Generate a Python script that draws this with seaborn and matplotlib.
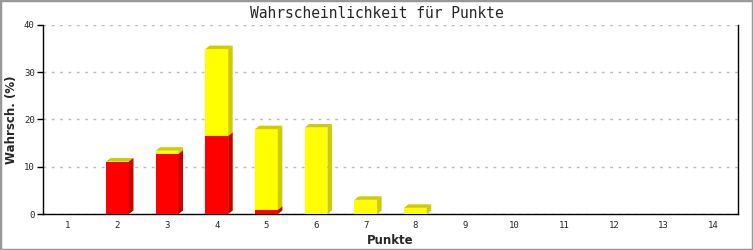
import matplotlib
matplotlib.use("Agg")
import matplotlib.pyplot as plt
import seaborn as sns
import pandas as pd
import numpy as np
from matplotlib.patches import Polygon, Rectangle

# ---- data ----
punkte = ["1", "2", "3", "4", "5", "6", "7", "8", "9", "10", "11", "12", "13", "14"]
rot = [0, 11.1, 12.7, 16.5, 0.85, 0, 0, 0, 0, 0, 0, 0, 0, 0]
gelb = [0, 0, 0.7, 18.4, 17.1, 18.3, 3.0, 1.3, 0, 0, 0, 0, 0, 0]
title = "Wahrscheinlichkeit für Punkte"
xlabel = "Punkte"
ylabel = "Wahrsch. (%)"
yticks = [0, 10, 20, 30, 40]

sns.set_theme(style="white")
plt.rcParams["font.family"] = ["DejaVu Sans Mono", "DejaVu Sans"]

W, H = 753, 250
fig = plt.figure(figsize=(W / 100, H / 100), dpi=100)
ax = fig.add_axes([43 / W, 1 - 214 / H, (738 - 43) / W, (214 - 25) / H])

df = pd.DataFrame({"punkte": punkte, "rot": rot, "gelb": gelb})
df["total"] = df["rot"] + df["gelb"]

bw = 0.46
sns.barplot(data=df, x="punkte", y="total", color="#FFFF00", saturation=1,
            width=bw, ax=ax, linewidth=0, zorder=3)
n_total = len(ax.patches)
sns.barplot(data=df, x="punkte", y="rot", color="#FF0000", saturation=1,
            width=bw, ax=ax, linewidth=0, zorder=4)

ax.set_xlim(-0.5, len(punkte) - 0.5)
ax.set_ylim(0, 40)

# 3D depth in pixels converted to data units
fig.canvas.draw()
x_px = ax.transData.transform([(0, 0), (1, 1)])
px_x = x_px[1, 0] - x_px[0, 0]
px_y = (x_px[1, 1] - x_px[0, 1])
dx = 4.5 / px_x
dy = 3.5 / px_y

patches = list(ax.patches)
for i, p in enumerate(patches):
    h = p.get_height()
    if h <= 0:
        continue
    x0 = p.get_x()
    x1 = x0 + p.get_width()
    y0 = p.get_y()
    y1 = y0 + h
    is_total = i < n_total
    side_c = "#CCCC00" if is_total else "#CC0000"
    z = 3 if is_total else 4
    side = Polygon([(x1, y0), (x1 + dx, y0 + dy), (x1 + dx, y1 + dy), (x1, y1)],
                   closed=True, facecolor=side_c, edgecolor="none", zorder=z)
    ax.add_patch(side)
    if is_total:
        top = Polygon([(x0, y1), (x0 + dx, y1 + dy), (x1 + dx, y1 + dy), (x1, y1)],
                      closed=True, facecolor="#CCCC00", edgecolor="none", zorder=z)
        ax.add_patch(top)

ax.set_yticks(yticks)
ax.set_yticklabels([str(v) for v in yticks], fontsize=6.5)
ax.set_xticks(range(len(punkte)))
ax.set_xticklabels(punkte, fontsize=6.5)
ax.tick_params(axis="y", length=4, width=1, color="black", pad=2, left=True)
ax.tick_params(axis="x", length=0, pad=5)

ax.grid(axis="y", color="#BBBBBB", linestyle=(0, (2, 4)), linewidth=1)
ax.grid(axis="x", visible=False)
ax.set_axisbelow(True)

for s in ["left", "bottom", "right"]:
    ax.spines[s].set_visible(True)
    ax.spines[s].set_color("black")
    ax.spines[s].set_linewidth(1)
ax.spines["top"].set_visible(False)

ax.set_xlabel(xlabel, fontsize=8.5, fontweight="bold", family="DejaVu Sans", labelpad=3)
ax.set_ylabel(ylabel, fontsize=8.5, fontweight="bold", family="DejaVu Sans", labelpad=4)
fig.text(0.5, 1 - 13 / H, title, ha="center", va="center", fontsize=10.5)

fig.patches.append(Rectangle((0, 0), 1, 1, transform=fig.transFigure, fill=False,
                             edgecolor="#999999", linewidth=2.5, zorder=10))

fig.savefig("out.png", dpi=100, facecolor="white")
